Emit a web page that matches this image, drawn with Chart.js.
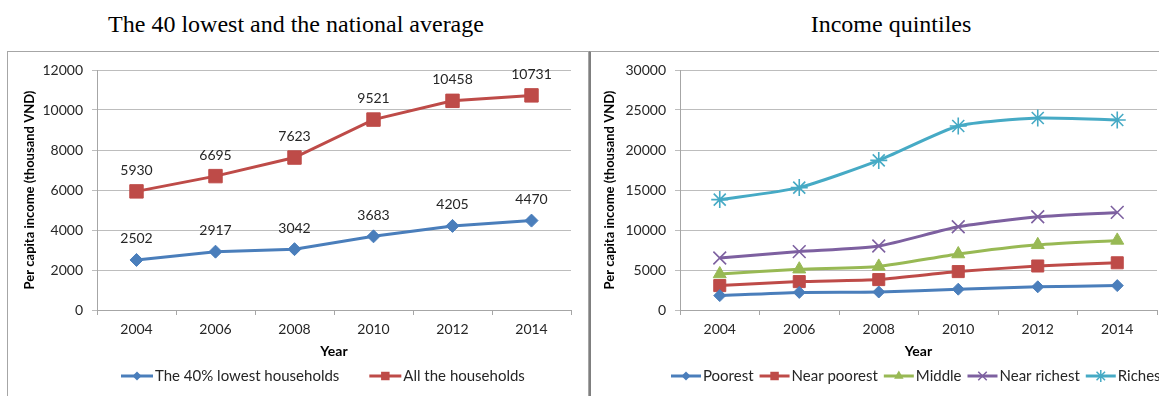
<!DOCTYPE html>
<html>
<head>
<meta charset="utf-8">
<script src="https://cdn.jsdelivr.net/npm/chart.js@4.4.1/dist/chart.umd.min.js"></script>
<style>
  html, body { margin: 0; padding: 0; width: 1159px; height: 396px; overflow: hidden; background: #fff; }
  .title { position: absolute; top: 11px; font-family: "Liberation Serif", "Times New Roman", serif; font-size: 24px; color: #000; white-space: nowrap; transform: translateX(-50%); }
  .frame { position: absolute; box-sizing: content-box; }
  canvas { position: absolute; }
</style>
</head>
<body>
<div class="title" style="left:296px">The 40 lowest and the national average</div>
<div class="title" style="left:891px">Income quintiles</div>
<div class="frame" style="left:7px; top:51px; width:580px; height:400px; border:1px solid #a6a6a6;"></div>
<div class="frame" style="left:589px; top:51px; width:600px; height:400px; border-left:2px solid #7f7f7f; border-top:1px solid #a6a6a6;"></div>
<canvas id="left" width="580" height="344" style="left:8px; top:52px;"></canvas>
<canvas id="right" width="583" height="344" style="left:591px; top:52px;"></canvas>
<script>
// Survey years
const years = ['2004', '2006', '2008', '2010', '2012', '2014'];

// Per capita income (thousand VND): 40% lowest vs all households
const lowest40 = [2502, 2917, 3042, 3683, 4205, 4470];
const allHouseholds = [5930, 6695, 7623, 9521, 10458, 10731];

// Per capita income by income quintile (thousand VND)
const poorest = [1800, 2200, 2250, 2600, 2900, 3050];
const nearPoorest = [3050, 3550, 3800, 4800, 5500, 5900];
const middle = [4500, 5100, 5450, 7000, 8150, 8700];
const nearRichest = [6500, 7300, 8000, 10400, 11650, 12200];
const richest = [13800, 15300, 18700, 23000, 24000, 23750];

// Value axis ticks
const leftTicks = [0, 2000, 4000, 6000, 8000, 10000, 12000];
const rightTicks = [0, 5000, 10000, 15000, 20000, 25000, 30000];

const FONT = 'Lato, "Open Sans", sans-serif';
const TEXT = '#262626';
const AXIS = '#a6a6a6';
const GRID = '#bdbdbd';

// Marker shapes shared by the plot legend
function drawMarker(ctx, style, x, y, r, color) {
  ctx.save();
  ctx.fillStyle = color;
  ctx.strokeStyle = color;
  ctx.lineWidth = 1.5;
  ctx.beginPath();
  if (style === 'rectRot') {
    ctx.moveTo(x - r, y); ctx.lineTo(x, y - r); ctx.lineTo(x + r, y); ctx.lineTo(x, y + r);
    ctx.closePath(); ctx.fill();
  } else if (style === 'rect') {
    const s = r * Math.SQRT1_2;
    ctx.rect(x - s, y - s, 2 * s, 2 * s); ctx.fill();
  } else if (style === 'triangle') {
    const h = r * 0.866;
    ctx.moveTo(x, y - r); ctx.lineTo(x + h, y + r / 2); ctx.lineTo(x - h, y + r / 2);
    ctx.closePath(); ctx.fill();
  } else if (style === 'crossRot') {
    const s = r * Math.SQRT1_2;
    ctx.moveTo(x - s, y - s); ctx.lineTo(x + s, y + s);
    ctx.moveTo(x - s, y + s); ctx.lineTo(x + s, y - s); ctx.stroke();
  } else if (style === 'star') {
    const s = r * Math.SQRT1_2;
    ctx.moveTo(x - s, y - s); ctx.lineTo(x + s, y + s);
    ctx.moveTo(x - s, y + s); ctx.lineTo(x + s, y - s);
    ctx.moveTo(x, y - r); ctx.lineTo(x, y + r); ctx.stroke();
  }
  ctx.restore();
}

// Legend drawn as a line sample with its marker, Excel style
function lineLegend(startX, y, gap, sample) {
  return {
    id: 'lineLegend',
    afterDraw(chart) {
      const ctx = chart.ctx;
      ctx.save();
      ctx.font = '15px ' + FONT;
      ctx.textBaseline = 'middle';
      ctx.textAlign = 'left';
      let x = startX;
      chart.data.datasets.forEach(ds => {
        ctx.strokeStyle = ds.borderColor;
        ctx.lineWidth = 3;
        ctx.beginPath();
        ctx.moveTo(x, y); ctx.lineTo(x + sample, y);
        ctx.stroke();
        drawMarker(ctx, ds.pointStyle, x + sample / 2, y, ds.legendRadius, ds.borderColor);
        x += sample + 2;
        ctx.fillStyle = TEXT;
        ctx.fillText(ds.label, x, y);
        x += ctx.measureText(ds.label).width + gap;
      });
      ctx.restore();
    }
  };
}

// Value labels placed above each point
const valueLabels = {
  id: 'valueLabels',
  afterDatasetsDraw(chart) {
    const ctx = chart.ctx;
    ctx.save();
    ctx.font = '14px ' + FONT;
    ctx.fillStyle = TEXT;
    ctx.textAlign = 'center';
    ctx.textBaseline = 'middle';
    chart.data.datasets.forEach((ds, i) => {
      chart.getDatasetMeta(i).data.forEach((pt, j) => {
        ctx.fillText(String(ds.data[j]), pt.x, pt.y - 21);
      });
    });
    ctx.restore();
  }
};

function series(label, data, color, style, radius, legendRadius, tension) {
  return {
    label, data,
    borderColor: color, backgroundColor: color,
    pointBackgroundColor: color, pointBorderColor: color,
    borderWidth: 3, pointStyle: style, pointRadius: radius, pointHoverRadius: radius,
    pointBorderWidth: (style === 'crossRot' || style === 'star') ? 1.6 : 1,
    tension: tension, legendRadius
  };
}

function scales(ticks, yTitlePad) {
  return {
    x: {
      offset: true,
      grid: { display: true, offset: true, drawOnChartArea: false, drawTicks: true, tickLength: 5, color: AXIS },
      border: { display: true, color: AXIS, width: 1 },
      ticks: { color: TEXT, font: { family: FONT, size: 14 }, padding: 6, maxRotation: 0 },
      title: { display: true, text: 'Year', color: '#000', font: { family: FONT, size: 14, weight: 'bold' }, padding: { top: 0, bottom: 36 } },
      afterFit(s) { s.height = 86; }
    },
    y: {
      min: ticks[0], max: ticks[ticks.length - 1],
      afterBuildTicks(s) { s.ticks = ticks.map(v => ({ value: v })); },
      grid: { color: GRID, drawTicks: true, tickLength: 5 },
      border: { display: true, color: AXIS, width: 1 },
      ticks: { color: TEXT, font: { family: FONT, size: 14 }, padding: 9, callback: v => String(v) },
      title: { display: true, text: 'Per capita income (thousand VND)', color: '#000', font: { family: FONT, size: 13, weight: 'bold' }, padding: { top: yTitlePad, bottom: 0 } },
      afterFit(s) { s.width = 89; }
    }
  };
}

const common = {
  responsive: false,
  animation: false,
  devicePixelRatio: 1,
  layout: { padding: { top: 18, right: 17, left: 0, bottom: 0 } },
  plugins: { legend: { display: false }, tooltip: { enabled: false } }
};

new Chart(document.getElementById('left'), {
  type: 'line',
  data: {
    labels: years,
    datasets: [
      series('The 40% lowest households', lowest40, '#4a7ebb', 'rectRot', 6.5, 4.5, 0),
      series('All the households', allHouseholds, '#be4b48', 'rect', 9.5, 6, 0)
    ]
  },
  options: Object.assign({}, common, { scales: scales(leftTicks, 14) }),
  plugins: [valueLabels, lineLegend(113, 324, 30, 32)]
});

new Chart(document.getElementById('right'), {
  type: 'line',
  data: {
    labels: years,
    datasets: [
      series('Poorest', poorest, '#4a7ebb', 'rectRot', 6, 4.5, 0.2),
      series('Near poorest', nearPoorest, '#be4b48', 'rect', 8.5, 6, 0.2),
      series('Middle', middle, '#98b954', 'triangle', 7.5, 5.5, 0.2),
      series('Near richest', nearRichest, '#7d60a0', 'crossRot', 9, 6, 0.2),
      series('Richest', richest, '#46aac5', 'star', 8.5, 6, 0.2)
    ]
  },
  options: Object.assign({}, common, { scales: scales(rightTicks, 11) }),
  plugins: [lineLegend(80, 324, 6, 30)]
});
</script>
</body>
</html>
